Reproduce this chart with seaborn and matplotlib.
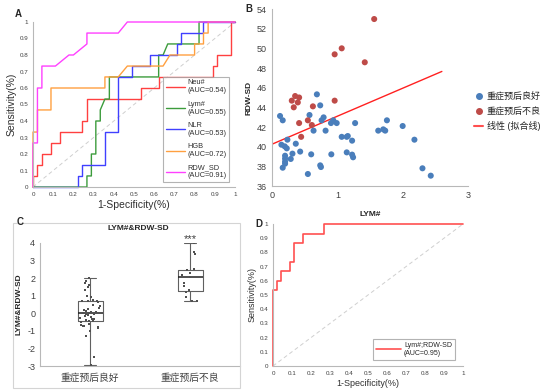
import numpy as np
import pandas as pd
import matplotlib
matplotlib.use('Agg')
import matplotlib.pyplot as plt
import seaborn as sns
from matplotlib.lines import Line2D
from matplotlib.patches import Rectangle

# ---- A: ROC curves of single markers ----
roc_names = ['Neu#', 'Lym#', 'NLR', 'HGB', 'RDW_SD']
roc_auc = ['0.54', '0.55', '0.53', '0.72', '0.91']
roc_colors = ['#ff4040', '#3c9c3c', '#4040ff', '#ffa040', '#ff40ff']

neu_x = [0, 0, 0.022, 0.022, 0.044, 0.044, 0.089, 0.089, 0.133, 0.133, 0.244, 0.244, 0.267, 0.267,
         0.533, 0.533, 0.622, 0.622, 0.889, 0.889, 0.911, 0.911, 0.978, 0.978, 1]
neu_y = [0, 0.067, 0.067, 0.133, 0.133, 0.2, 0.2, 0.267, 0.267, 0.333, 0.333, 0.4, 0.4, 0.533,
         0.533, 0.6, 0.6, 0.667, 0.667, 0.733, 0.733, 0.8, 0.8, 1, 1]
lym_x = [0, 0.267, 0.267, 0.289, 0.289, 0.311, 0.311, 0.333, 0.333, 0.356, 0.378, 0.378, 0.622,
         0.622, 0.644, 0.667, 0.822, 0.822, 1]
lym_y = [0, 0, 0.067, 0.067, 0.2, 0.2, 0.4, 0.4, 0.467, 0.533, 0.533, 0.667, 0.667,
         0.8, 0.8, 0.867, 0.867, 1, 1]
nlr_x = [0, 0.222, 0.222, 0.244, 0.244, 0.356, 0.356, 0.422, 0.422, 0.489, 0.489, 0.578, 0.578,
         0.711, 0.711, 0.733, 0.733, 0.844, 0.844, 1]
nlr_y = [0, 0, 0.067, 0.067, 0.133, 0.133, 0.333, 0.333, 0.667, 0.667, 0.733, 0.733, 0.8,
         0.8, 0.867, 0.867, 0.933, 0.933, 1, 1]
hgb_x = [0, 0, 0.022, 0.022, 0.089, 0.089, 0.356, 0.356, 0.422, 0.467, 0.644, 0.678, 0.8, 0.8,
         0.844, 0.844, 0.867, 0.867, 1]
hgb_y = [0, 0.333, 0.333, 0.467, 0.467, 0.6, 0.6, 0.667, 0.667, 0.733, 0.733, 0.8, 0.8, 0.867,
         0.867, 0.933, 0.933, 1, 1]
rdw_x = [0, 0, 0.022, 0.022, 0.044, 0.044, 0.111, 0.178, 0.2, 0.267, 0.267, 0.422, 0.467, 1]
rdw_y = [0, 0.267, 0.267, 0.6, 0.6, 0.733, 0.733, 0.8, 0.8, 0.867, 0.933, 0.933, 1, 1]

roc_ticks = [0, 0.1, 0.2, 0.3, 0.4, 0.5, 0.6, 0.7, 0.8, 0.9, 1]
roc_tick_labels = ['0', '0.1', '0.2', '0.3', '0.4', '0.5', '0.6', '0.7', '0.8', '0.9', '1']

# ---- B: LYM# vs RDW-SD ----
good_lym = [0.687, 0.738, 0.123, 0.164, 0.574, 0.79, 0.759, 0.938, 0.903, 0.99, 1.272, 1.759,
            0.636, 0.82, 1.626, 1.703, 1.733, 2.0, 2.18, 1.067, 1.144, 1.16, 1.226, 0.236, 0.144,
            0.195, 0.226, 0.364, 0.431, 0.313, 0.2, 0.2, 0.2, 0.2, 0.287, 0.164, 0.6, 0.908,
            1.144, 1.226, 1.241, 0.738, 0.749, 0.549, 2.303, 2.43]
good_rdw = [45.32, 44.2, 43.12, 42.68, 43.22, 42.98, 42.68, 42.68, 42.4, 42.4, 42.4, 42.68,
            41.63, 41.63, 41.63, 41.76, 41.63, 42.1, 40.71, 41.0, 41.0, 41.08, 40.61, 40.71, 40.2,
            40.03, 39.83, 40.3, 39.5, 39.29, 39.08, 38.78, 38.47, 38.27, 38.75, 37.86, 39.22, 39.22,
            39.42, 39.19, 38.92, 38.1, 37.93, 37.22, 37.8, 37.05]
bad_lym = [1.564, 1.067, 0.959, 1.42, 0.959, 0.354, 0.415, 0.303, 0.395, 0.333, 0.626, 0.549,
           0.61, 0.415, 0.446]
bad_rdw = [52.98, 50.0, 49.39, 48.58, 44.68, 45.15, 45.0, 44.68, 44.5, 44.0, 44.1, 42.68,
           42.2, 42.4, 41.0]
fit_x = [0, 2.6]
fit_y = [40.25, 47.65]
group_names = ['重症预后良好', '重症预后不良']
fit_name = '线性 (拟合线)'

# ---- C: combined score box plot ----
score_good = [-2.95, -2.5, -1.3, -1.0, -0.85, -0.8, -0.75, -0.7, -0.65, -0.6, -0.5, -0.45, -0.45,
              -0.4, -0.35, -0.3, -0.25, -0.2, -0.15, -0.1, -0.05, -0.02, 0.0, 0.02, 0.05, 0.1,
              0.15, 0.2, 0.25, 0.3, 0.4, 0.5, 0.62, 0.7, 0.7, 0.72, 0.75, 0.9, 1.0, 1.3, 1.5,
              1.6, 1.7, 1.85, 2.0]
score_bad = [0.7, 0.72, 0.95, 1.2, 1.3, 1.55, 1.7, 2.05, 2.2, 2.3, 2.45, 2.5, 3.35, 3.5, 4.0]
c_yticks = [-3, -2, -1, 0, 1, 2, 3, 4]
c_ytick_labels = ['-3', '-2', '-1', '0', '1', '2', '3', '4']

# ---- D: ROC of combination ----
combo_x = [0, 0, 0.022, 0.022, 0.044, 0.044, 0.089, 0.089, 0.111, 0.111, 0.156, 0.156, 0.267, 0.267, 1]
combo_y = [0, 0.533, 0.533, 0.6, 0.6, 0.667, 0.667, 0.733, 0.733, 0.867, 0.867, 0.933, 0.933, 1, 1]

sns.set_style('white')
plt.rcParams['font.family'] = ['Liberation Sans', 'Noto Sans CJK SC']
plt.rcParams['axes.unicode_minus'] = False

W, H = 554, 390
fig = plt.figure(figsize=(W / 100, H / 100), dpi=100)


def box(l, t, r, b):
    return [l / W, 1 - b / H, (r - l) / W, (b - t) / H]


spine_c = '#b8b8b8'
tick_c = '#404040'


def style_axes(ax, fs):
    for s in ['top', 'right']:
        ax.spines[s].set_visible(False)
    for s in ['left', 'bottom']:
        ax.spines[s].set_color(spine_c)
        ax.spines[s].set_linewidth(0.8)
    ax.tick_params(axis='both', colors=spine_c, labelcolor=tick_c, labelsize=fs,
                   length=2, width=0.6, pad=1.5)


# ===== A =====
axA = fig.add_axes(box(33, 22, 235, 187))
curves = [(neu_x, neu_y), (lym_x, lym_y), (nlr_x, nlr_y), (hgb_x, hgb_y), (rdw_x, rdw_y)]
handles = []
for (xs, ys), name, auc, col in zip(curves, roc_names, roc_auc, roc_colors):
    sns.lineplot(x=xs, y=ys, sort=False, estimator=None, color=col, lw=1, ax=axA)
    handles.append(Line2D([], [], color=col, lw=1, label=f'{name}\n(AUC={auc})'))
for ln in axA.lines:
    ln.set_clip_on(False)
axA.plot([0, 1], [0, 1], color='#cfcfcf', lw=0.7, ls=(0, (4, 3)), zorder=0)
axA.set_xlim(0, 1)
axA.set_ylim(0, 1)
axA.set_xticks(roc_ticks, roc_tick_labels)
axA.set_yticks(roc_ticks, roc_tick_labels)
style_axes(axA, 4.5)
axA.set_xlabel('1-Specificity(%)', fontsize=7.5, color='#303030', labelpad=2)
axA.set_ylabel('Sensitivity(%)', fontsize=7.5, color='#303030', labelpad=2)
leg = axA.legend(handles=handles, loc='lower right', bbox_to_anchor=(0.97, 0.03),
                 fontsize=5.3, frameon=True, fancybox=False, edgecolor='#a0a0a0',
                 handlelength=2.7, labelspacing=0.85, borderpad=0.35, borderaxespad=0,
                 handletextpad=0.25)
leg.get_frame().set_linewidth(0.8)
for t in leg.get_texts():
    t.set_color('#303030')
fig.text(15 / W, 1 - 14 / H, 'A', fontsize=7, fontweight='bold', va='center', ha='left')

# ===== B =====
axB = fig.add_axes(box(272, 9, 468, 186))
dfB = pd.DataFrame({
    'LYM': good_lym + bad_lym,
    'RDW': good_rdw + bad_rdw,
    'grp': [group_names[0]] * len(good_lym) + [group_names[1]] * len(bad_lym),
})
sns.scatterplot(data=dfB, x='LYM', y='RDW', hue='grp', hue_order=group_names,
                palette=['#4a7ebb', '#be4b48'], s=19, linewidth=0, ax=axB, legend=False, zorder=3)
sns.lineplot(x=fit_x, y=fit_y, color='#ff2020', lw=1, ax=axB, zorder=2)
axB.set_xlim(0, 3)
axB.set_ylim(36, 54)
axB.set_xticks([0, 1, 2, 3])
axB.set_yticks(list(range(36, 55, 2)))
style_axes(axB, 6.5)
axB.set_xlabel('LYM#', fontsize=6, fontweight='bold', labelpad=8)
axB.set_ylabel('RDW-SD', fontsize=6, fontweight='bold', labelpad=3)
hB = [Line2D([], [], ls='', marker='o', ms=4, color='#4a7ebb', label=group_names[0]),
      Line2D([], [], ls='', marker='o', ms=4, color='#be4b48', label=group_names[1]),
      Line2D([], [], color='#ff5050', lw=1.5, label=fit_name)]
legB = axB.legend(handles=hB, loc='center left', bbox_to_anchor=(0.99, 0.42), frameon=False,
                  fontsize=6.5, handlelength=1.0, handletextpad=0.4, labelspacing=0.6)
fig.text(245 / W, 1 - 9 / H, 'B', fontsize=7, fontweight='bold', va='center', ha='left')

# ===== C =====
fig.patches.append(Rectangle((13 / W, 1 - 388 / H), 227 / W, 165 / H, transform=fig.transFigure,
                             fill=False, edgecolor='#d4d4d4', lw=0.8))
axC = fig.add_axes(box(40, 243, 240, 366))
dfC = pd.DataFrame({
    'grp': [group_names[0]] * len(score_good) + [group_names[1]] * len(score_bad),
    'score': score_good + score_bad,
})
sns.boxplot(data=dfC, x='grp', y='score', order=group_names, whis=(0, 100), width=0.25,
            fill=False, color='#606060', linewidth=0.8,
            medianprops=dict(color='#202020', lw=1.1), ax=axC)
np.random.seed(3)
sns.stripplot(data=dfC, x='grp', y='score', order=group_names, jitter=0.1, size=1.8,
              marker='s', color='#505050', ax=axC)
axC.set_xlim(-0.5, 1.5)
axC.set_ylim(-3, 4)
axC.set_yticks(c_yticks, c_ytick_labels)
axC.set_xticks([-0.5, 0.5, 1.5], minor=True)
style_axes(axC, 6.5)
axC.tick_params(axis='x', which='major', length=0, labelsize=7, pad=5)
axC.tick_params(axis='x', which='minor', length=2.5, color=spine_c, width=0.6)
axC.set_xlabel('')
axC.set_ylabel('LYM#&RDW-SD', fontsize=6, fontweight='bold', labelpad=3)
axC.text(1, max(score_bad) + 0.22, '***', ha='center', va='center', fontsize=8,
         color='#404040', clip_on=False)
fig.text(138 / W, 1 - 229 / H, 'LYM#&RDW-SD', fontsize=6, fontweight='bold', ha='center', va='center')
fig.text(17 / W, 1 - 222 / H, 'C', fontsize=7, fontweight='bold', va='center', ha='left')

# ===== D =====
axD = fig.add_axes(box(273, 224, 463, 366))
sns.lineplot(x=combo_x, y=combo_y, sort=False, estimator=None, color='#ff5050', lw=1.2, ax=axD)
for ln in axD.lines:
    ln.set_clip_on(False)
axD.plot([0, 1], [0, 1], color='#cfcfcf', lw=0.7, ls=(0, (4, 3)), zorder=0)
axD.set_xlim(0, 1)
axD.set_ylim(0, 1)
axD.set_xticks(roc_ticks, roc_tick_labels)
axD.set_yticks(roc_ticks, roc_tick_labels)
style_axes(axD, 4.5)
axD.set_xlabel('1-Specificity(%)', fontsize=6.5, color='#303030', labelpad=2)
axD.set_ylabel('Sensitivity(%)', fontsize=6.5, color='#303030', labelpad=2)
legD = axD.legend(handles=[Line2D([], [], color='#ff5050', lw=1.2, label='Lym#;RDW-SD\n(AUC=0.95)')],
                  loc='lower right', bbox_to_anchor=(0.975, 0.02), fontsize=5, frameon=True,
                  fancybox=False, edgecolor='#a0a0a0', handlelength=3.6, borderpad=0.4,
                  handletextpad=0.5)
legD.get_frame().set_linewidth(0.8)
fig.text(255 / W, 1 - 224 / H, 'D', fontsize=7, fontweight='bold', va='center', ha='left')

fig.savefig('out.png', dpi=100)
